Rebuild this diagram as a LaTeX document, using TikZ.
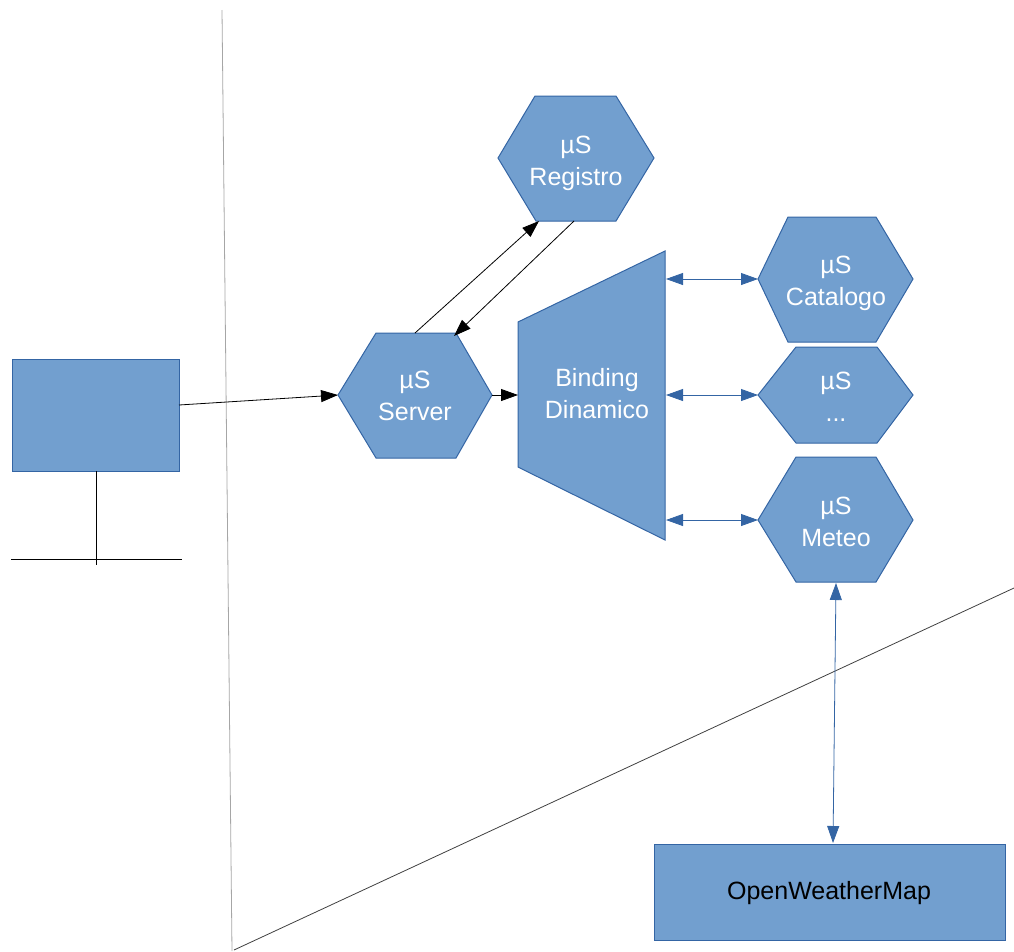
\documentclass[tikz,border=0pt]{standalone}
\usepackage{fontspec}
\setmainfont{Liberation Sans}
\usetikzlibrary{arrows.meta}
\definecolor{fillb}{HTML}{729FCF}
\definecolor{edgeb}{HTML}{3465A4}
\tikzset{
  shapebox/.style={fill=fillb, draw=edgeb, line width=1pt},
  lbl/.style={text=white, align=center, font=\fontsize{25}{32}\selectfont, inner sep=0pt},
  blackarrow/.style={draw=black, line width=0.8pt, -{Triangle[length=17pt,width=12pt]}},
  bluearrow/.style={draw=edgeb, line width=0.8pt, {Triangle[length=17pt,width=12pt]}-{Triangle[length=17pt,width=12pt]}},
}
\begin{document}
\begin{tikzpicture}[x=1pt,y=-1pt]
\useasboundingbox (0,0) rectangle (1014,951);
% background lines
\draw[line width=0.8pt, color=black!35] (222,10) -- (232,951);
\draw[line width=0.8pt, color=black!75] (234,950) -- (1014,588);
% left rectangle
\draw[shapebox] (12,359) rectangle (179,471);
\coordinate (rectR) at (179,405);
\coordinate (rectB) at (96,471);
\coordinate (stemB) at (96,565);
\coordinate (baseL) at (11,559);
\coordinate (baseR) at (182,559);
\draw[line width=0.8pt] (rectB) -- (stemB);
\draw[line width=0.8pt] (baseL) -- (baseR);
% Registro hexagon
\draw[shapebox] (498,158) -- (535,96) -- (616,96) -- (654,158) -- (616,221) -- (536,221) -- cycle;
\node[lbl] (registro) at (576,163) {µS\\Registro};
\coordinate (regBL) at (539,221);
\coordinate (regB) at (574,221);
% Server hexagon
\draw[shapebox] (338,395) -- (376,333) -- (456,333) -- (492,395) -- (456,458) -- (376,458) -- cycle;
\node[lbl] (server) at (415,396) {µS\\Server};
\coordinate (srvL) at (338,395);
\coordinate (srvR) at (492,395);
\coordinate (srvT) at (415,333);
\coordinate (srvTR) at (454,336);
% Binding trapezoid
\draw[shapebox] (518,322) -- (665,251) -- (665,540) -- (518,467) -- cycle;
\node[lbl] (binding) at (597,394) {Binding\\Dinamico};
\coordinate (bindL) at (518,395);
\coordinate (bindR1) at (666,279);
\coordinate (bindR2) at (666,395);
\coordinate (bindR3) at (666,520);
% Catalogo hexagon
\draw[shapebox] (758,279) -- (788,217) -- (876,217) -- (913,279) -- (876,342) -- (788,342) -- cycle;
\node[lbl] (catalogo) at (836,283) {µS\\Catalogo};
\coordinate (catL) at (758,279);
% dots hexagon
\draw[shapebox] (758,395) -- (796,347) -- (877,347) -- (913,395) -- (877,443) -- (796,443) -- cycle;
\node[lbl] (dots) at (836,397) {µS\\...};
\coordinate (dotL) at (758,395);
% Meteo hexagon
\draw[shapebox] (758,520) -- (796,457) -- (876,457) -- (913,520) -- (876,582) -- (796,582) -- cycle;
\node[lbl] (meteo) at (836,522) {µS\\Meteo};
\coordinate (metL) at (758,520);
\coordinate (metB) at (836,583);
% OpenWeatherMap
\draw[shapebox] (654,844) rectangle (1005,940);
\node[lbl, text=black] (owm) at (829,893) {OpenWeatherMap};
\coordinate (owmT) at (833,843);
% connectors
\draw[blackarrow] (rectR) -- (srvL);
\draw[blackarrow] (srvR) -- (bindL);
\draw[blackarrow] (srvT) -- (regBL);
\draw[blackarrow] (regB) -- (srvTR);
\draw[bluearrow] (bindR1) -- (catL);
\draw[bluearrow] (bindR2) -- (dotL);
\draw[bluearrow] (bindR3) -- (metL);
\draw[bluearrow] (metB) -- (owmT);
\end{tikzpicture}
\end{document}
